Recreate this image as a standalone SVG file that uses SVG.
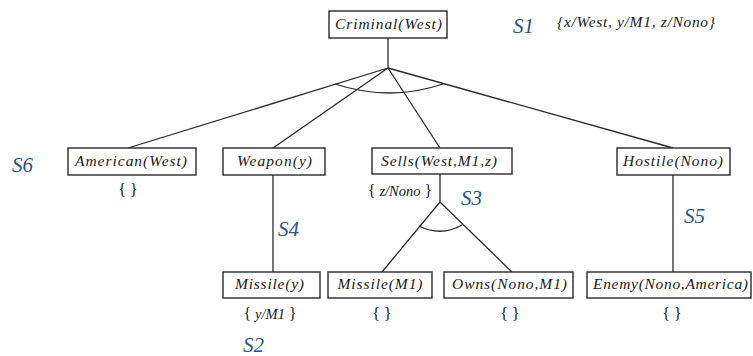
<svg xmlns="http://www.w3.org/2000/svg" width="753" height="356" viewBox="0 0 753 356">
  <style>
    .box { fill: #ffffff; stroke: #2a2a2a; stroke-width: 1.4; }
    .edge { fill: none; stroke: #2a2a2a; stroke-width: 1.3; }
    .lbl { font-family: "Liberation Serif", "DejaVu Serif", serif; font-style: italic; font-size: 15.5px; fill: #1a1a1a; text-anchor: middle; }
    .sub { font-family: "Liberation Serif", "DejaVu Serif", serif; font-size: 16px; fill: #1a1a1a; text-anchor: middle; }
    .sub tspan.v { font-style: italic; font-size: 14.5px; }
    .step { font-family: "Liberation Serif", "DejaVu Serif", serif; font-style: italic; font-size: 21px; fill: #27548f; }
  </style>
  <rect width="753" height="356" fill="#ffffff"/>

  <!-- connectors -->
  <g id="connectors">
    <path class="edge" d="M388,38 V68"/>
    <path class="edge" d="M388,68 L128,148 M388,68 L273,148 M388,68 L440,148 M388,68 L673,148"/>
    <path class="edge" d="M335,84 Q390,102 443,84"/>
    <path class="edge" d="M273,175 V272"/>
    <path class="edge" d="M673,175 V272"/>
    <path class="edge" d="M440,174 V202 L382,272 M440,202 L512,272"/>
    <path class="edge" d="M419,226 Q441,237 462,225"/>
  </g>

  <!-- goal nodes -->
  <g id="criminal">
    <rect class="box" x="329" y="11" width="118" height="27"/>
    <text class="lbl" x="388.5" y="29" textLength="107" lengthAdjust="spacing">Criminal(West)</text>
  </g>
  <g id="american">
    <rect class="box" x="68" y="148" width="128" height="27"/>
    <text class="lbl" x="131" y="166" textLength="112" lengthAdjust="spacing">American(West)</text>
    <text class="sub" x="128" y="195">{ }</text>
  </g>
  <g id="weapon">
    <rect class="box" x="223" y="148" width="102" height="27"/>
    <text class="lbl" x="274.5" y="166" textLength="75" lengthAdjust="spacing">Weapon(y)</text>
  </g>
  <g id="sells">
    <rect class="box" x="372" y="148" width="140" height="26"/>
    <text class="lbl" x="439" y="166" textLength="116" lengthAdjust="spacing">Sells(West,M1,z)</text>
    <text class="sub" x="400" y="196">{ <tspan class="v">z/Nono</tspan> }</text>
  </g>
  <g id="hostile">
    <rect class="box" x="617" y="148" width="113" height="27"/>
    <text class="lbl" x="673" y="166" textLength="100" lengthAdjust="spacing">Hostile(Nono)</text>
  </g>
  <g id="missile-y">
    <rect class="box" x="223" y="272" width="97" height="26"/>
    <text class="lbl" x="269.5" y="289" textLength="69" lengthAdjust="spacing">Missile(y)</text>
    <text class="sub" x="270" y="319">{ <tspan class="v">y/M1</tspan> }</text>
  </g>
  <g id="missile-m1">
    <rect class="box" x="328" y="272" width="104" height="26"/>
    <text class="lbl" x="380" y="289" textLength="85" lengthAdjust="spacing">Missile(M1)</text>
    <text class="sub" x="382" y="319">{ }</text>
  </g>
  <g id="owns">
    <rect class="box" x="444" y="272" width="129" height="26"/>
    <text class="lbl" x="509.5" y="289" textLength="115" lengthAdjust="spacing">Owns(Nono,M1)</text>
    <text class="sub" x="510" y="319">{ }</text>
  </g>
  <g id="enemy">
    <rect class="box" x="587" y="272" width="164" height="26"/>
    <text class="lbl" x="670.5" y="289" textLength="155" lengthAdjust="spacing">Enemy(Nono,America)</text>
    <text class="sub" x="672" y="319">{ }</text>
  </g>

  <!-- substitution and step labels -->
  <g id="annotations">
    <text class="lbl" x="636" y="27" font-size="13.5" textLength="158" lengthAdjust="spacing">{x/West, y/M1, z/Nono}</text>
    <text class="step" x="513" y="33">S1</text>
    <text class="step" x="243" y="352">S2</text>
    <text class="step" x="461" y="205">S3</text>
    <text class="step" x="278" y="236">S4</text>
    <text class="step" x="684" y="223">S5</text>
    <text class="step" x="12" y="172">S6</text>
  </g>
</svg>
